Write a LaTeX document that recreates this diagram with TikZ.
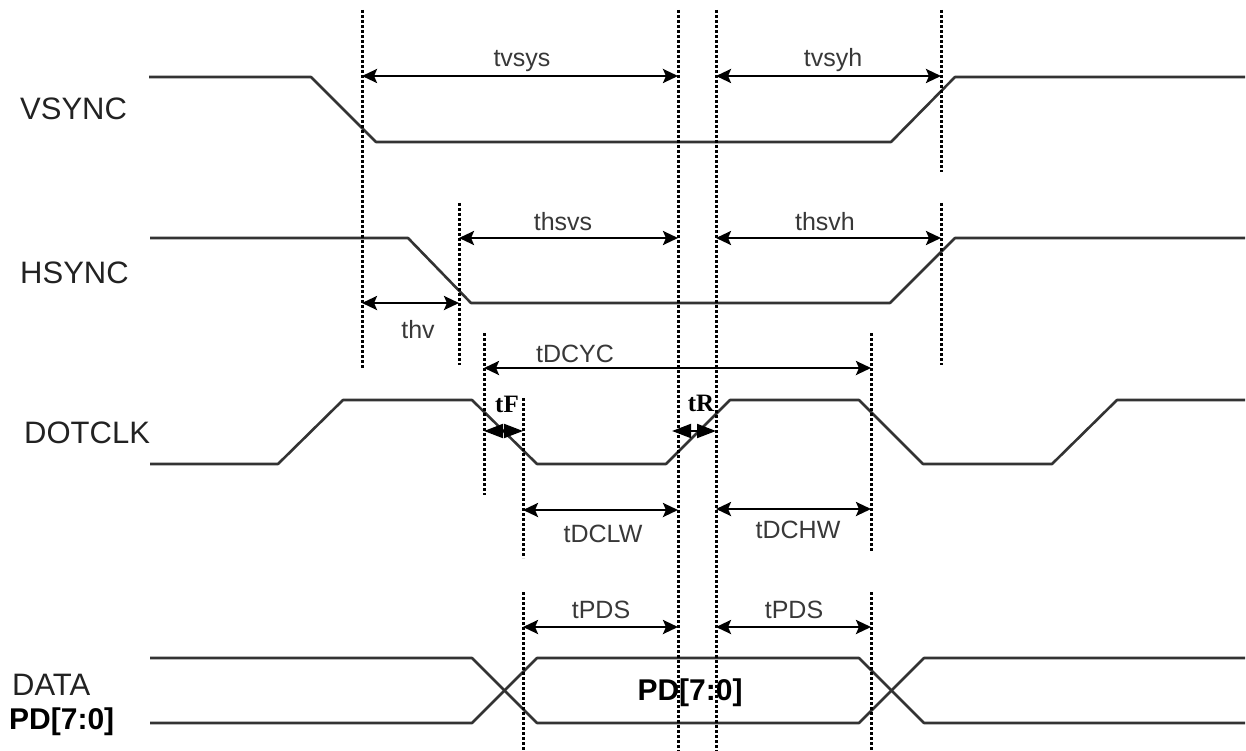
\documentclass[tikz,border=0pt]{standalone}
\usepackage{fontspec}
\setmainfont{Liberation Sans}
\newfontfamily\serifbold{Liberation Serif}
\usetikzlibrary{arrows.meta}
\definecolor{sigcol}{HTML}{333333}
\definecolor{labcol}{HTML}{222222}
\definecolor{tlabcol}{HTML}{383838}
\begin{document}
\begin{tikzpicture}[x=1pt,y=-1pt,
  sig/.style={draw=sigcol, line width=2.6pt, line join=round},
  guide/.style={draw=black, line width=3pt, dash pattern=on 3pt off 2pt},
  dimarrow/.style={draw=black, line width=2.6pt,
     {Stealth[length=15pt,width=14pt,inset=3pt]}-{Stealth[length=15pt,width=14pt,inset=3pt]}},
  halfarrow/.style={draw=black, line width=2pt, -{Triangle[length=19pt,width=14pt]}},
  siglabel/.style={font=\fontsize{31}{31}\selectfont, text=labcol, inner sep=0pt, anchor=base west},
  pdlabel/.style={font=\fontsize{30}{30}\selectfont\bfseries, text=black, inner sep=0pt},
  tlabel/.style={font=\fontsize{25}{25}\selectfont, text=tlabcol, inner sep=0pt, anchor=base},
  trlabel/.style={font=\fontsize{25}{25}\selectfont\serifbold\bfseries, text=black, inner sep=0pt, anchor=base}
]
\useasboundingbox (0,0) rectangle (1246,751);

% signal names
\node[siglabel] (nv) at (20,120) {VSYNC};
\node[siglabel] (nh) at (20,283) {HSYNC};
\node[siglabel] (nd) at (24,443) {DOTCLK};
\node[siglabel] (nda) at (12,695) {DATA};
\node[pdlabel, anchor=base west] (npd) at (9,729) {PD[7:0]};
\node[pdlabel, anchor=base] (npdm) at (690,700) {PD[7:0]};

% waveforms
\draw[sig] (149,77) -- (311,77) -- (376,142) -- (891,142) -- (955,77) -- (1245,77);
\draw[sig] (150,238) -- (408,238) -- (471,303) -- (890,303) -- (955,238) -- (1245,238);
\draw[sig] (150,464) -- (278,464) -- (343,400) -- (472,400) -- (537,464) -- (666,464)
   -- (730,400) -- (859,400) -- (923,464) -- (1052,464) -- (1117,400) -- (1245,400);
\draw[sig] (150,658) -- (472,658) -- (537,723) -- (859,723) -- (924,658) -- (1245,658);
\draw[sig] (150,723) -- (472,723) -- (537,658) -- (859,658) -- (924,723) -- (1245,723);

% guide coordinates
\coordinate (L1a) at (362,10);  \coordinate (L1b) at (362,368);
\coordinate (L2a) at (459,203); \coordinate (L2b) at (459,365);
\coordinate (L3a) at (484,333); \coordinate (L3b) at (484,495);
\coordinate (L4a) at (523,398); \coordinate (L4b) at (523,558);
\coordinate (L4c) at (523,592); \coordinate (L4d) at (523,751);
\coordinate (L5a) at (678,10);  \coordinate (L5b) at (678,751);
\coordinate (L6a) at (716,10);  \coordinate (L6b) at (716,751);
\coordinate (L7a) at (941,10);  \coordinate (L7b) at (941,172);
\coordinate (L7c) at (941,203); \coordinate (L7d) at (941,365);
\coordinate (L8a) at (871,333); \coordinate (L8b) at (871,552);
\coordinate (L8c) at (871,592); \coordinate (L8d) at (871,751);

\draw[guide] (L1a) -- (L1b);
\draw[guide] (L2a) -- (L2b);
\draw[guide] (L3a) -- (L3b);
\draw[guide] (L4a) -- (L4b);
\draw[guide] (L4c) -- (L4d);
\draw[guide] (L5a) -- (L5b);
\draw[guide] (L6a) -- (L6b);
\draw[guide] (L7a) -- (L7b);
\draw[guide] (L7c) -- (L7d);
\draw[guide] (L8a) -- (L8b);
\draw[guide] (L8c) -- (L8d);

% dimension arrow end points
\coordinate (vsysL) at (362,76);  \coordinate (vsysR) at (678,76);
\coordinate (vsyhL) at (716,76);  \coordinate (vsyhR) at (941,76);
\coordinate (hsvsL) at (459,238); \coordinate (hsvsR) at (678,238);
\coordinate (hsvhL) at (716,238); \coordinate (hsvhR) at (941,238);
\coordinate (hvL) at (362,303);   \coordinate (hvR) at (459,303);
\coordinate (dcycL) at (484,368); \coordinate (dcycR) at (871,368);
\coordinate (dclwL) at (523,510); \coordinate (dclwR) at (678,510);
\coordinate (dchwL) at (716,509); \coordinate (dchwR) at (871,509);
\coordinate (pds1L) at (523,627); \coordinate (pds1R) at (678,627);
\coordinate (pds2L) at (716,627); \coordinate (pds2R) at (871,627);
\coordinate (tFl) at (484,431); \coordinate (tFm) at (503,431); \coordinate (tFr) at (523,431);
\coordinate (tRl) at (672,431); \coordinate (tRm) at (694,431); \coordinate (tRr) at (716,431);

\draw[dimarrow] (vsysL) -- (vsysR);
\draw[dimarrow] (vsyhL) -- (vsyhR);
\draw[dimarrow] (hsvsL) -- (hsvsR);
\draw[dimarrow] (hsvhL) -- (hsvhR);
\draw[dimarrow] (hvL) -- (hvR);
\draw[dimarrow] (dcycL) -- (dcycR);
\draw[dimarrow] (dclwL) -- (dclwR);
\draw[dimarrow] (dchwL) -- (dchwR);
\draw[dimarrow] (pds1L) -- (pds1R);
\draw[dimarrow] (pds2L) -- (pds2R);
\draw[halfarrow] (tFm) -- (tFl);
\draw[halfarrow] (tFm) -- (tFr);
\draw[halfarrow] (tRm) -- (tRl);
\draw[halfarrow] (tRm) -- (tRr);

% timing labels
\node[tlabel] (ttvsys) at (522,67) {tvsys};
\node[tlabel] (ttvsyh) at (833,67) {tvsyh};
\node[tlabel] (tthsvs) at (563,231) {thsvs};
\node[tlabel] (tthsvh) at (825,231) {thsvh};
\node[tlabel] (tthv) at (418,338) {thv};
\node[tlabel] (ttdcyc) at (575,362) {tDCYC};
\node[tlabel] (ttdclw) at (603,542) {tDCLW};
\node[tlabel] (ttdchw) at (798,538) {tDCHW};
\node[tlabel] (ttpds1) at (601,618) {tPDS};
\node[tlabel] (ttpds2) at (794,618) {tPDS};
\node[trlabel] (ttf) at (507,412) {tF};
\node[trlabel] (ttr) at (701,411) {tR};
\end{tikzpicture}
\end{document}
